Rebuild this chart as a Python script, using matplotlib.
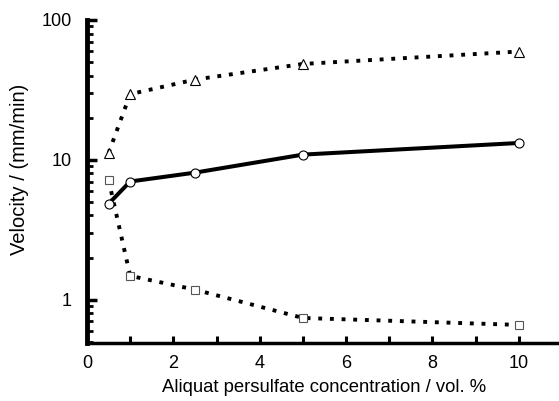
import matplotlib
matplotlib.use("Agg")
import matplotlib.pyplot as plt
from matplotlib.ticker import LogLocator, NullFormatter, FixedLocator

plt.rcParams['font.family'] = ['Liberation Sans', 'DejaVu Sans']

conc = [0.5, 1.0, 2.5, 5.0, 10.0]
vel_triangle = [11.2, 29.5, 37.5, 48.5, 59.5]
vel_circle = [4.85, 7.0, 8.1, 10.9, 13.2]
vel_square = [7.2, 1.48, 1.18, 0.74, 0.66]

x_ticks = list(range(0, 11))
x_ticklabels = ['0', '', '2', '', '4', '', '6', '', '8', '', '10']
y_ticks = [1, 10, 100]
y_ticklabels = ['1', '10', '100']

fig = plt.figure(figsize=(5.59, 4.01), dpi=100)
ax = fig.add_axes([87/559, 1-343/401, (562-87)/559, (343-20)/401])

dot = (0, (1.0, 2.0))
ax.plot(conc, vel_triangle, color='black', lw=2.8, linestyle=dot, dash_capstyle='butt', zorder=2)
ax.plot(conc, vel_square, color='black', lw=2.8, linestyle=dot, dash_capstyle='butt', zorder=2)
ax.plot(conc, vel_circle, color='black', lw=2.9, solid_capstyle='butt', zorder=2)

ax.plot(conc, vel_triangle, linestyle='none', marker='^', ms=6.5, mfc='white', mec='black', mew=0.8, zorder=3)
ax.plot(conc, vel_circle, linestyle='none', marker='o', ms=6.5, mfc='white', mec='black', mew=0.8, zorder=3)
ax.plot(conc, vel_square, linestyle='none', marker='s', ms=5.5, mfc='white', mec='#555555', mew=0.8, zorder=3)

ax.set_yscale('log')
ax.set_ylim(0.49, 100)
ax.set_xlim(0, 11)

ax.set_xticks(x_ticks)
ax.set_xticklabels(x_ticklabels)
ax.yaxis.set_major_locator(FixedLocator(y_ticks))
ax.set_yticklabels(y_ticklabels)
ax.yaxis.set_minor_locator(LogLocator(base=10, subs=range(2, 10)))
ax.yaxis.set_minor_formatter(NullFormatter())

ax.tick_params(axis='x', direction='in', length=5, width=2.2, labelsize=13, pad=9)
ax.tick_params(axis='y', which='major', direction='in', length=7, width=2.5, labelsize=13, pad=11)
ax.tick_params(axis='y', which='minor', direction='in', length=4, width=2)

for s in ['top', 'right']:
    ax.spines[s].set_visible(False)
ax.spines['left'].set_linewidth(3.5)
ax.spines['bottom'].set_linewidth(2.5)

ax.set_xlabel('Aliquat persulfate concentration / vol. %', fontsize=13.3, labelpad=5)
ax.set_ylabel('Velocity / (mm/min)', fontsize=14.5)
ax.yaxis.set_label_coords((29 - 87) / 475, (343 - 169) / 323)

fig.savefig('out.png', dpi=100)
